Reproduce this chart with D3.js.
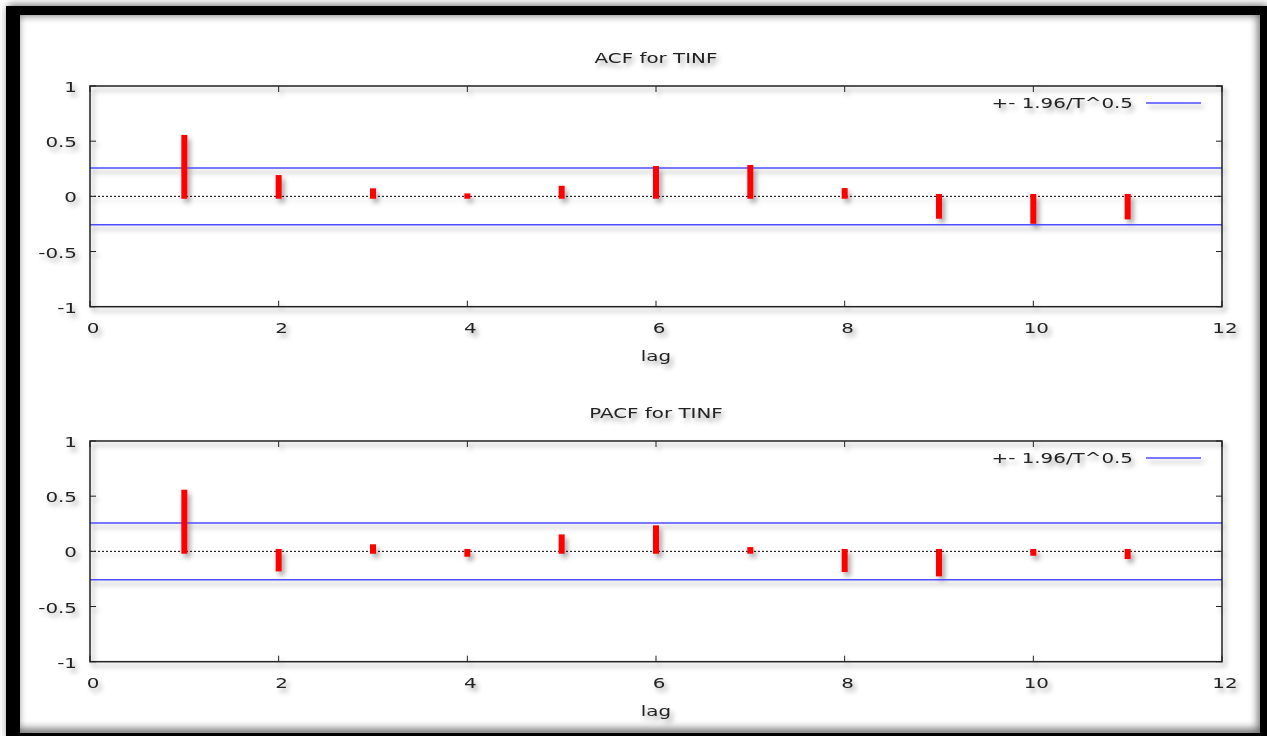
<!DOCTYPE html>
<html>
<head>
<meta charset="utf-8">
<script src="https://cdn.jsdelivr.net/npm/d3@7"></script>
<style>
    html, body { margin: 0; padding: 0; background: #fff; }
    svg { display: block; }
</style>
</head>
<body>
<svg id="chart"></svg>
<script>
// Values
const lags = [1, 2, 3, 4, 5, 6, 7, 8, 9, 10, 11];
const acfValues = [0.535, 0.171, 0.051, 0.005, 0.074, 0.253, 0.262, 0.053, -0.181, -0.227, -0.187];
const pacfValues = [0.537, -0.160, 0.042, -0.027, 0.132, 0.214, 0.017, -0.166, -0.205, -0.018, -0.048];
const bandLimit = 0.257; // +- 1.96/T^0.5
const xTicks = [0, 2, 4, 6, 8, 10, 12];
const yTicks = [1, 0.5, 0, -0.5, -1];
const yTickLabels = ['1', '0.5', '0', '-0.5', '-1'];
const titles = ['ACF for TINF', 'PACF for TINF'];
const legendLabel = '+- 1.96/T^0.5';

const width = 1267, height = 736;
const svg = d3.select('#chart').attr('width', width).attr('height', height);
const fontFamily = '"DejaVu Sans", Verdana, sans-serif';
const textStretch = 1.42; // the original picture is stretched sideways

const defs = svg.append('defs');
defs.append('filter')
    .attr('id', 'shadow')
    .attr('x', '-5%').attr('y', '-5%').attr('width', '110%').attr('height', '110%')
    .append('feDropShadow')
    .attr('dx', 3).attr('dy', 4)
    .attr('stdDeviation', 2.5)
    .attr('flood-color', '#000')
    .attr('flood-opacity', 0.35);
defs.append('filter')
    .attr('id', 'innerBlur')
    .append('feGaussianBlur')
    .attr('stdDeviation', 4);

// Frame with soft inner shadow
const frame = svg.append('g');
frame.append('rect')
    .attr('x', 13).attr('y', 10).attr('width', 1250).attr('height', 724)
    .attr('fill', 'none').attr('stroke', '#000').attr('stroke-width', 10)
    .attr('filter', 'url(#innerBlur)').attr('opacity', 0.6);
frame.append('rect').attr('x', 6).attr('y', 6).attr('width', 14).attr('height', 730).attr('fill', '#000');
frame.append('rect').attr('x', 6).attr('y', 6).attr('width', 1261).attr('height', 9).attr('fill', '#000');
frame.append('rect').attr('x', 1260).attr('y', 6).attr('width', 7).attr('height', 730).attr('fill', '#000');
frame.append('rect').attr('x', 6).attr('y', 733).attr('width', 1261).attr('height', 3).attr('fill', '#000');

function addText(g, str, x, y, anchor) {
    g.append('text')
        .attr('transform', `translate(${x},${y}) scale(${textStretch},1)`)
        .attr('text-anchor', anchor)
        .style('font-family', fontFamily)
        .style('font-size', '14px')
        .style('fill', '#222')
        .text(str);
}

function drawPanel(values, title, top) {
    const left = 90, right = 1222, bottom = top + 220.7;
    const x = d3.scaleLinear().domain([0, 12]).range([left, right]);
    const y = d3.scaleLinear().domain([-1, 1]).range([bottom, top]);

    const g = svg.append('g').attr('filter', 'url(#shadow)');

    // band lines
    g.selectAll('.band')
        .data([bandLimit, -bandLimit])
        .enter()
        .append('line')
        .attr('x1', left).attr('x2', right)
        .attr('y1', d => y(d)).attr('y2', d => y(d))
        .attr('stroke', '#4d4dff')
        .attr('stroke-width', 1.6);

    // zero line
    g.append('line')
        .attr('x1', left).attr('x2', right)
        .attr('y1', y(0)).attr('y2', y(0))
        .attr('stroke', '#000')
        .attr('stroke-width', 1)
        .attr('stroke-dasharray', '2,2');

    // impulses
    const barW = 6, ext = 2.4;
    g.selectAll('.bar')
        .data(values)
        .enter()
        .append('rect')
        .attr('x', (d, i) => x(lags[i]) - barW / 2)
        .attr('y', d => Math.min(y(d), y(0)) - ext)
        .attr('width', barW)
        .attr('height', d => Math.abs(y(d) - y(0)) + 2 * ext)
        .attr('fill', '#ff0000');

    // border
    g.append('rect')
        .attr('x', left).attr('y', top)
        .attr('width', right - left).attr('height', bottom - top)
        .attr('fill', 'none').attr('stroke', '#222').attr('stroke-width', 1.5);

    // ticks (mirrored, inward)
    const tickLen = 6;
    xTicks.forEach(t => {
        g.append('line').attr('x1', x(t)).attr('x2', x(t)).attr('y1', bottom).attr('y2', bottom - tickLen)
            .attr('stroke', '#222').attr('stroke-width', 1);
        g.append('line').attr('x1', x(t)).attr('x2', x(t)).attr('y1', top).attr('y2', top + tickLen)
            .attr('stroke', '#222').attr('stroke-width', 1);
        addText(g, String(t), x(t) + 3, bottom + 26.6, 'middle');
    });
    yTicks.forEach((t, i) => {
        g.append('line').attr('x1', left).attr('x2', left + tickLen).attr('y1', y(t)).attr('y2', y(t))
            .attr('stroke', '#222').attr('stroke-width', 1);
        g.append('line').attr('x1', right).attr('x2', right - tickLen).attr('y1', y(t)).attr('y2', y(t))
            .attr('stroke', '#222').attr('stroke-width', 1);
        addText(g, yTickLabels[i], 77, y(t) + 6, 'end');
    });

    // titles
    addText(g, title, (left + right) / 2, top - 23, 'middle');
    addText(g, 'lag', (left + right) / 2, bottom + 54, 'middle');

    // legend
    addText(g, legendLabel, 1133, top + 22, 'end');
    g.append('line')
        .attr('x1', 1146).attr('x2', 1201)
        .attr('y1', top + 17).attr('y2', top + 17)
        .attr('stroke', '#4d4dff').attr('stroke-width', 1.4);
}

drawPanel(acfValues, titles[0], 86);
drawPanel(pacfValues, titles[1], 441);
</script>
</body>
</html>
